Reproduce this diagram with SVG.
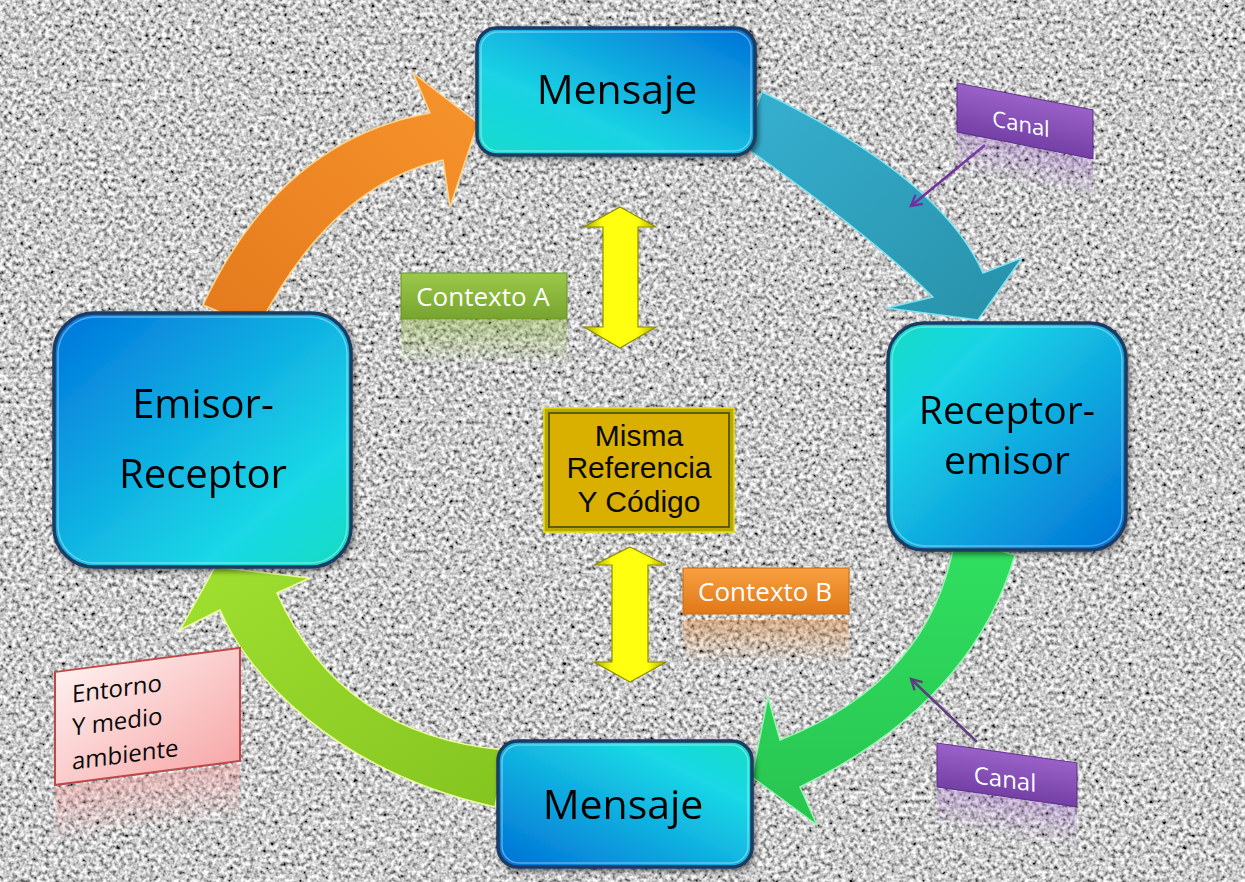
<svg xmlns="http://www.w3.org/2000/svg" width="1245" height="882" viewBox="0 0 1245 882">
<defs>
<filter id="noise" filterUnits="userSpaceOnUse" x="0" y="0" width="1245" height="882">
<feTurbulence type="fractalNoise" baseFrequency="0.24" numOctaves="2" seed="7" result="t"/>
<feColorMatrix in="t" type="matrix" values="1.8 0 0 0 -0.31  1.8 0 0 0 -0.31  1.8 0 0 0 -0.31  0 0 0 0 1"/>
</filter>
<filter id="shadow" x="-10%" y="-10%" width="130%" height="140%">
<feDropShadow dx="2" dy="3" stdDeviation="2.5" flood-color="#000" flood-opacity="0.45"/>
</filter>
<linearGradient id="gMsgTop" x1="0" y1="1" x2="1" y2="0">
<stop offset="0" stop-color="#16dccc"/><stop offset="0.35" stop-color="#1ad2e4"/><stop offset="1" stop-color="#0070d8"/>
</linearGradient>
<linearGradient id="gEmisor" x1="0" y1="0" x2="1" y2="1">
<stop offset="0" stop-color="#0074dc"/><stop offset="0.75" stop-color="#1ad8e6"/><stop offset="1" stop-color="#12dcc0"/>
</linearGradient>
<linearGradient id="gRecep" x1="0" y1="0" x2="1" y2="1">
<stop offset="0" stop-color="#12dcc4"/><stop offset="0.25" stop-color="#1ad4e6"/><stop offset="1" stop-color="#0070d6"/>
</linearGradient>
<linearGradient id="gMsgBot" x1="0" y1="1" x2="1" y2="0">
<stop offset="0" stop-color="#0070d6"/><stop offset="0.75" stop-color="#1ad8e6"/><stop offset="1" stop-color="#12dcc4"/>
</linearGradient>
<linearGradient id="gYellow" x1="0" y1="0" x2="1" y2="0">
<stop offset="0" stop-color="#a8a800"/><stop offset="0.25" stop-color="#ffff10"/><stop offset="0.75" stop-color="#ffff10"/><stop offset="1" stop-color="#a8a800"/>
</linearGradient>
<linearGradient id="gGreenBox" x1="0" y1="0" x2="0" y2="1">
<stop offset="0" stop-color="#9cc84a"/><stop offset="1" stop-color="#77a42e"/>
</linearGradient>
<linearGradient id="gOrangeBox" x1="0" y1="0" x2="0" y2="1">
<stop offset="0" stop-color="#f8a040"/><stop offset="1" stop-color="#e07818"/>
</linearGradient>
<linearGradient id="gPurple" x1="0" y1="0" x2="0" y2="1">
<stop offset="0" stop-color="#9a62c8"/><stop offset="1" stop-color="#7440a6"/>
</linearGradient>
<linearGradient id="gPink" x1="0" y1="0" x2="1" y2="1">
<stop offset="0" stop-color="#fff0f0"/><stop offset="1" stop-color="#f7a8a8"/>
</linearGradient>
<linearGradient id="rGreen" x1="0" y1="0" x2="0" y2="1">
<stop offset="0" stop-color="#8db33a" stop-opacity="0.45"/><stop offset="1" stop-color="#8db33a" stop-opacity="0"/>
</linearGradient>
<linearGradient id="rOrange" x1="0" y1="0" x2="0" y2="1">
<stop offset="0" stop-color="#d88030" stop-opacity="0.45"/><stop offset="1" stop-color="#d88030" stop-opacity="0"/>
</linearGradient>
<linearGradient id="rPurple" x1="0" y1="0" x2="0" y2="1">
<stop offset="0" stop-color="#9a62c8" stop-opacity="0.35"/><stop offset="1" stop-color="#9a62c8" stop-opacity="0"/>
</linearGradient>
<linearGradient id="rPink" x1="0" y1="0" x2="0" y2="1">
<stop offset="0" stop-color="#f4a0a0" stop-opacity="0.5"/><stop offset="1" stop-color="#f4a0a0" stop-opacity="0"/>
</linearGradient>
<linearGradient id="gOrangeArr" x1="0" y1="1" x2="1" y2="0">
<stop offset="0" stop-color="#e47a1c"/><stop offset="1" stop-color="#f7942c"/>
</linearGradient>
<linearGradient id="gTealArr" x1="0" y1="0" x2="1" y2="1">
<stop offset="0" stop-color="#36b0d0"/><stop offset="1" stop-color="#2890a8"/>
</linearGradient>
<linearGradient id="gGreenArr" x1="0" y1="0" x2="0" y2="1">
<stop offset="0" stop-color="#30e060"/><stop offset="1" stop-color="#28c450"/>
</linearGradient>
<linearGradient id="gLimeArr" x1="0" y1="0" x2="1" y2="1">
<stop offset="0" stop-color="#a0e030"/><stop offset="1" stop-color="#84c420"/>
</linearGradient>
<marker id="chev1" viewBox="0 0 12 12" refX="10" refY="6" markerWidth="14" markerHeight="14" markerUnits="userSpaceOnUse" orient="auto">
<path d="M1,1 L10,6 L1,11" fill="none" stroke="#7030a0" stroke-width="2"/>
</marker>
<marker id="chev2" viewBox="0 0 12 12" refX="10" refY="6" markerWidth="14" markerHeight="14" markerUnits="userSpaceOnUse" orient="auto">
<path d="M1,1 L10,6 L1,11" fill="none" stroke="#5e3e80" stroke-width="2"/>
</marker>
</defs>
<style>
.node-t{font-family:"Open Sans","Noto Sans","DejaVu Sans",sans-serif;fill:#050505;text-anchor:middle}
.blue{stroke:#1c3a64;stroke-width:3.5}
.hl{fill:none;stroke:#ffffff;stroke-opacity:0.35;stroke-width:1.5}
.lab{font-family:"Open Sans","Noto Sans","DejaVu Sans",sans-serif;fill:#ffffff;text-anchor:middle}
.arr{stroke-width:1.5;stroke-linejoin:round}
</style>
<rect x="0" y="0" width="1245" height="882" fill="#ffffff"/>
<rect x="6" y="9" width="1239" height="873" fill="#a0a0a0"/>
<rect x="6" y="9" width="1239" height="873" filter="url(#noise)"/>

<g id="connectors">
<path class="arr" d="M203,305 Q280,140 430,113 L413,73 L478,123 L450,207 L443,160 Q330,186 258,328 Z" fill="url(#gOrangeArr)" stroke="#ffd890"/>
<path class="arr" d="M762,92 Q941,178 983,273 L1022,258 L978,320 L887,308 L933,297 Q868,233 742,145 Z" fill="url(#gTealArr)" stroke="#7de4f4"/>
<path class="arr" d="M955,538 Q932,681 780,740 L768,697 L752,777 L817,825 L800,787 Q972,703 1015,555 Z" fill="url(#gGreenArr)" stroke="#9af5b4"/>
<path class="arr" d="M505,750 Q340,735 277,593 L310,578 L215,567 L180,630 L220,610 C245,670 330,770 495,807 Z" fill="url(#gLimeArr)" stroke="#f0ffa0"/>
<path d="M620,207 L656,227 L638,227 L638,327 L656,327 L620,348 L584,327 L603,327 L603,227 L584,227 Z" fill="url(#gYellow)" stroke="#8e8e00" stroke-width="1.2"/>
<path d="M630,547 L666,565 L648,565 L648,662 L666,662 L630,682 L594,662 L612,662 L612,565 L594,565 Z" fill="url(#gYellow)" stroke="#8e8e00" stroke-width="1.2"/>
<line x1="985" y1="145" x2="911" y2="206" stroke="#7030a0" stroke-width="2.5" marker-end="url(#chev1)"/>
<line x1="977" y1="742" x2="911" y2="679" stroke="#5e3e80" stroke-width="2.5" marker-end="url(#chev2)"/>
</g>

<g id="msg-top" filter="url(#shadow)">
<rect class="blue" x="477" y="28" width="278" height="127" rx="20" fill="url(#gMsgTop)"/>
<rect class="hl" x="481" y="32" width="270" height="119" rx="17"/>
<text class="node-t" x="617" y="104" font-size="41">Mensaje</text>
</g>

<g id="emisor-receptor" filter="url(#shadow)">
<rect class="blue" x="54" y="313" width="297" height="254" rx="40" fill="url(#gEmisor)"/>
<rect class="hl" x="58" y="317" width="289" height="246" rx="37"/>
<text class="node-t" x="203" y="418" font-size="40">Emisor-</text>
<text class="node-t" x="203" y="488" font-size="40">Receptor</text>
</g>

<g id="receptor-emisor" filter="url(#shadow)">
<rect class="blue" x="888" y="323" width="238" height="227" rx="36" fill="url(#gRecep)"/>
<rect class="hl" x="892" y="327" width="230" height="219" rx="33"/>
<text class="node-t" x="1007" y="424" font-size="39">Receptor-</text>
<text class="node-t" x="1007" y="474" font-size="39">emisor</text>
</g>

<g id="msg-bottom" filter="url(#shadow)">
<rect class="blue" x="498" y="741" width="254" height="126" rx="20" fill="url(#gMsgBot)"/>
<rect class="hl" x="502" y="745" width="246" height="118" rx="17"/>
<text class="node-t" x="623" y="819" font-size="41">Mensaje</text>
</g>

<g id="referencia">
<rect x="544" y="408" width="190" height="124" fill="#b8a800" stroke="#e8e000" stroke-width="1.5"/>
<rect x="549" y="413" width="180" height="114" fill="#dab000" stroke="#5c5c00" stroke-width="2"/>
<g font-family="'Liberation Sans',Arial,sans-serif" font-size="30" fill="#0a0a0a" text-anchor="middle">
<text x="639" y="446">Misma</text>
<text x="639" y="478">Referencia</text>
<text x="639" y="512">Y Código</text>
</g>
</g>

<g id="contexto-a">
<rect x="401" y="320" width="166" height="46" fill="url(#rGreen)"/>
<rect x="401" y="273" width="166" height="46" fill="url(#gGreenBox)" stroke="#6a9428" stroke-width="1"/>
<text class="lab" x="483" y="306" font-size="26">Contexto A</text>
</g>

<g id="contexto-b">
<rect x="683" y="620" width="166" height="42" fill="url(#rOrange)"/>
<rect x="683" y="568" width="166" height="46" fill="url(#gOrangeBox)" stroke="#c86c14" stroke-width="1"/>
<text class="lab" x="765" y="601" font-size="26">Contexto B</text>
</g>

<g id="canal-top" transform="translate(957,83) skewY(11.2)">
<rect x="0" y="50" width="136" height="40" fill="url(#rPurple)"/>
<rect x="0" y="0" width="136" height="49" fill="url(#gPurple)" stroke="#5e2e8c" stroke-width="1"/>
<text class="lab" x="64" y="36" font-size="22" fill="#f0ecf4">Canal</text>
</g>

<g id="canal-bottom" transform="translate(937,743) skewY(8.1)">
<rect x="0" y="45" width="140" height="40" fill="url(#rPurple)"/>
<rect x="0" y="0" width="140" height="44" fill="url(#gPurple)" stroke="#5e2e8c" stroke-width="1"/>
<text class="lab" x="68" y="35" font-size="24" fill="#f0ecf4">Canal</text>
</g>

<g id="entorno" transform="translate(55,672) skewY(-7.4)">
<rect x="0" y="116" width="185" height="55" fill="url(#rPink)"/>
<rect x="0" y="0" width="185" height="113" fill="url(#gPink)" stroke="#c04848" stroke-width="2"/>
<g font-family="'Open Sans','Noto Sans',sans-serif" font-size="24" fill="#0a0a0a">
<text x="17" y="33">Entorno</text>
<text x="17" y="66">Y medio</text>
<text x="17" y="100">ambiente</text>
</g>
</g>
</svg>
